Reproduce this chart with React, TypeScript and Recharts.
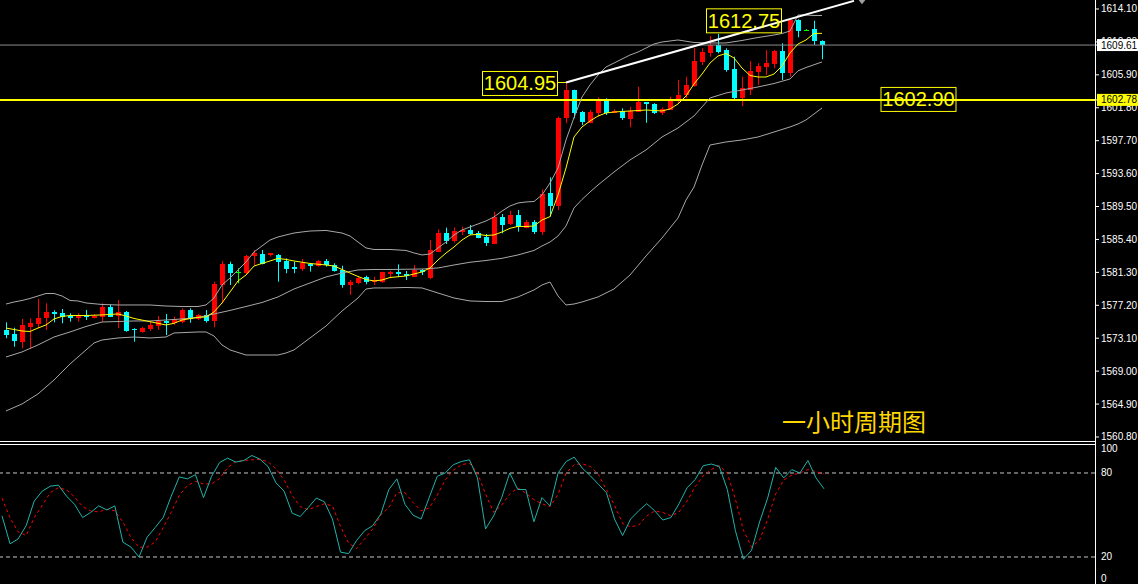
import React from "react";
import { ComposedChart, Bar, Line, XAxis, YAxis, ReferenceLine, ReferenceDot } from "recharts";

const opens = [1574.13,1573.59,1572.67,1574.54,1574.87,1575.58,1576.40,1576.24,1575.91,1575.66,1576.00,1575.71,1575.71,1577.03,1575.87,1576.40,1574.21,1573.91,1574.21,1574.62,1575.25,1574.96,1575.16,1576.62,1575.50,1576.00,1575.25,1579.73,1582.34,1581.31,1581.19,1583.34,1583.59,1583.38,1583.47,1582.76,1582.01,1581.72,1582.30,1582.13,1582.72,1582.22,1581.60,1579.82,1580.01,1580.68,1580.14,1580.06,1581.19,1581.31,1581.06,1580.76,1581.60,1580.56,1583.88,1586.24,1585.25,1586.33,1586.58,1586.24,1585.74,1584.92,1588.24,1587.33,1588.45,1586.91,1587.61,1586.37,1591.15,1589.48,1600.49,1604.01,1601.31,1599.99,1601.19,1602.68,1601.19,1601.44,1600.49,1601.31,1602.48,1602.27,1601.11,1601.61,1602.68,1603.39,1604.51,1607.54,1608.58,1609.62,1609.00,1606.63,1602.98,1604.01,1606.29,1606.91,1607.25,1608.87,1606.17,1612.73,1611.48,1611.57,1610.15];
const highs = [1575.08,1574.41,1575.50,1575.58,1577.99,1577.45,1576.58,1576.74,1576.20,1576.20,1576.62,1576.08,1577.45,1577.33,1577.86,1576.49,1574.34,1574.50,1575.25,1575.87,1576.12,1575.79,1576.83,1576.83,1576.12,1576.62,1580.14,1582.75,1582.63,1581.81,1583.47,1584.09,1584.09,1583.72,1583.59,1583.05,1582.63,1582.97,1582.35,1582.84,1582.97,1582.43,1582.13,1580.35,1580.76,1580.89,1580.76,1581.39,1581.47,1582.30,1581.47,1582.22,1581.72,1585.33,1586.66,1586.87,1586.91,1587.00,1587.20,1586.45,1586.08,1588.86,1588.57,1588.98,1589.07,1587.82,1587.82,1591.65,1593.14,1600.69,1604.95,1604.05,1601.40,1601.52,1603.10,1602.98,1601.61,1601.73,1601.93,1604.42,1602.48,1602.36,1601.85,1603.18,1605.26,1605.67,1609.21,1609.21,1610.74,1611.00,1609.21,1608.16,1605.67,1607.62,1607.34,1609.00,1609.00,1609.83,1612.75,1612.82,1611.60,1612.64,1610.20];
const lows = [1573.09,1572.05,1571.85,1571.76,1574.34,1574.13,1575.08,1574.96,1575.16,1575.16,1575.37,1575.58,1575.16,1575.75,1574.34,1573.91,1572.67,1573.80,1573.99,1574.13,1573.50,1574.75,1574.96,1575.04,1575.37,1575.04,1574.46,1577.45,1579.73,1579.94,1581.10,1582.22,1582.30,1583.30,1580.14,1581.19,1581.19,1581.47,1581.39,1582.01,1582.01,1581.39,1579.39,1578.49,1579.82,1579.82,1579.73,1580.01,1580.56,1580.76,1580.35,1580.72,1580.97,1580.45,1583.80,1584.84,1585.00,1585.95,1585.95,1585.55,1584.59,1584.85,1586.17,1587.20,1586.37,1586.79,1586.08,1585.96,1588.24,1589.07,1599.87,1600.49,1599.66,1599.87,1600.69,1600.90,1601.11,1600.28,1599.37,1601.31,1599.94,1601.03,1600.90,1601.52,1602.36,1602.98,1604.42,1607.13,1608.16,1608.58,1606.29,1602.77,1602.02,1603.39,1604.64,1605.88,1606.72,1605.26,1605.67,1610.57,1611.40,1609.62,1607.84];
const closes = [1573.50,1572.67,1574.75,1575.04,1575.66,1576.33,1576.16,1575.79,1575.66,1576.00,1575.71,1575.91,1576.95,1575.79,1576.40,1574.04,1574.04,1574.41,1574.75,1575.25,1574.96,1575.46,1576.62,1575.50,1576.00,1575.25,1579.85,1582.34,1581.19,1581.31,1583.34,1583.68,1582.34,1583.68,1582.63,1581.72,1581.72,1582.43,1582.09,1582.72,1582.22,1581.51,1579.73,1580.14,1580.64,1580.06,1580.35,1581.31,1581.39,1581.06,1580.85,1581.60,1581.31,1584.09,1586.24,1585.25,1586.45,1586.58,1586.08,1585.62,1585.00,1588.24,1587.20,1588.45,1586.91,1587.61,1586.37,1591.06,1589.48,1600.49,1604.01,1601.11,1600.07,1601.31,1602.68,1601.19,1601.40,1600.61,1601.44,1602.56,1602.23,1601.19,1601.61,1602.93,1603.39,1604.64,1607.62,1608.78,1609.62,1608.78,1606.50,1603.06,1604.22,1606.38,1607.00,1607.41,1608.91,1606.17,1612.73,1611.40,1611.48,1610.03,1609.61];

const maPoints: [number, number][] = [[0,1574.37],[2,1574.00],[3,1573.94],[4,1574.37],[5,1574.75],[6,1575.50],[7,1575.81],[8,1575.93],[10,1575.93],[12,1576.00],[14,1576.12],[15,1575.87],[16,1575.56],[18,1575.16],[20,1574.75],[21,1574.96],[22,1575.37],[24,1575.71],[25,1575.74],[26,1576.37],[27,1577.49],[28,1578.86],[29,1580.23],[30,1580.97],[31,1582.09],[32,1582.41],[33,1582.72],[34,1583.03],[35,1582.91],[36,1582.72],[38,1582.41],[40,1582.22],[41,1582.09],[42,1581.66],[43,1581.22],[44,1580.79],[45,1580.41],[46,1580.23],[47,1580.35],[48,1580.66],[50,1580.85],[51,1581.10],[52,1581.35],[53,1581.85],[54,1582.84],[55,1583.71],[56,1584.46],[57,1585.33],[58,1585.96],[59,1586.04],[60,1585.89],[61,1585.96],[62,1586.33],[63,1586.79],[64,1587.02],[65,1587.02],[66,1587.08],[67,1587.82],[68,1588.24],[69,1590.94],[70,1594.30],[71,1598.16],[72,1599.41],[73,1600.15],[74,1600.77],[75,1601.15],[76,1601.27],[78,1601.40],[80,1601.52],[82,1601.40],[83,1601.65],[84,1602.27],[85,1603.27],[86,1604.76],[87,1606.00],[88,1607.37],[89,1608.25],[90,1608.56],[91,1608.00],[92,1606.75],[93,1605.82],[94,1605.63],[95,1605.63],[96,1606.00],[97,1607.00],[98,1608.62],[99,1609.74],[100,1610.24],[101,1611.05],[102,1611.07]];
const upperBand: [number, number][] = [[0,1577.36],[1,1577.61],[2,1577.80],[3,1578.05],[4,1578.36],[5,1578.67],[6,1578.67],[7,1578.36],[8,1577.80],[9,1577.74],[10,1577.49],[12,1577.30],[14,1577.24],[16,1577.24],[18,1577.24],[20,1577.11],[22,1577.05],[24,1577.05],[25,1577.24],[26,1578.11],[27,1579.73],[28,1580.60],[29,1581.60],[30,1582.59],[31,1583.84],[32,1584.59],[33,1585.33],[34,1585.71],[35,1585.96],[36,1586.20],[37,1586.33],[38,1586.45],[40,1586.52],[42,1586.20],[43,1585.83],[44,1585.08],[45,1584.34],[46,1584.15],[48,1584.15],[50,1584.03],[51,1583.72],[52,1583.47],[53,1583.59],[54,1584.34],[55,1585.08],[56,1585.96],[57,1586.58],[58,1586.95],[59,1587.33],[60,1587.70],[61,1588.20],[62,1588.94],[63,1589.57],[64,1589.94],[65,1590.07],[66,1590.13],[67,1590.94],[68,1592.43],[69,1594.30],[70,1597.79],[71,1600.58],[72,1603.14],[73,1604.64],[74,1605.88],[75,1606.88],[76,1607.37],[77,1607.87],[78,1608.37],[79,1608.74],[80,1609.24],[81,1609.74],[82,1609.99],[84,1610.24],[86,1609.93],[88,1609.87],[90,1609.87],[92,1610.18],[94,1610.55],[96,1610.86],[97,1611.05],[98,1611.36],[99,1613.35],[100,1613.35],[101,1613.29],[102,1613.29]];
const middleBand: [number, number][] = [[0,1570.76],[2,1571.39],[4,1572.26],[6,1573.25],[8,1573.88],[10,1574.56],[12,1575.12],[14,1575.18],[16,1575.25],[18,1575.25],[20,1575.37],[22,1575.50],[24,1575.68],[26,1576.12],[28,1576.56],[30,1577.05],[32,1577.55],[34,1578.24],[36,1579.23],[38,1579.98],[40,1580.73],[42,1581.22],[44,1581.60],[46,1581.66],[48,1581.66],[50,1581.69],[52,1581.72],[54,1581.85],[56,1582.22],[58,1582.56],[60,1582.78],[62,1583.05],[64,1583.47],[66,1584.03],[67,1584.59],[68,1585.08],[69,1585.83],[70,1587.08],[71,1589.32],[72,1590.38],[73,1591.31],[74,1592.18],[76,1593.80],[78,1595.30],[80,1596.54],[82,1598.16],[84,1599.28],[86,1600.78],[88,1603.02],[90,1603.64],[92,1604.01],[94,1604.39],[96,1604.82],[98,1605.38],[99,1606.40],[100,1606.81],[102,1607.50]];
const lowerBand: [number, number][] = [[0,1564.04],[2,1564.91],[4,1566.16],[6,1567.90],[8,1569.89],[10,1571.64],[11,1572.51],[12,1572.88],[14,1573.13],[16,1573.25],[18,1573.13],[20,1573.25],[21,1573.75],[24,1573.88],[25,1573.88],[26,1573.38],[27,1572.26],[28,1571.64],[30,1571.01],[32,1571.01],[34,1571.01],[35,1571.26],[36,1571.64],[38,1573.13],[40,1574.62],[42,1576.49],[44,1578.11],[45,1579.23],[46,1579.36],[48,1579.36],[50,1579.42],[52,1579.36],[54,1578.73],[56,1578.11],[58,1577.74],[60,1577.67],[62,1577.67],[64,1578.24],[66,1579.11],[67,1579.73],[68,1580.10],[69,1578.36],[70,1577.24],[71,1577.36],[72,1577.61],[74,1578.24],[76,1579.23],[78,1580.97],[80,1583.34],[82,1585.58],[84,1588.07],[85,1590.31],[86,1591.93],[87,1594.67],[88,1597.16],[90,1597.54],[92,1597.79],[94,1598.16],[96,1598.78],[98,1599.41],[99,1599.78],[100,1600.28],[102,1601.77]];

const stochK = [49.4,29.4,32.9,42.4,60.0,67.1,70.6,71.3,63.5,57.6,48.2,51.8,56.5,53.6,56.5,30.6,27.1,20.0,34.1,41,48.2,63.5,77.2,75.8,78.8,62.4,77.6,87.5,90.6,87.8,88.9,92.5,89.9,84.7,72.9,67.1,51.3,48.9,55.3,62.1,59.5,47.1,23.5,22.4,31.8,38.8,42.4,50.6,68.2,75.8,57.6,49.9,47.1,62.4,77.6,80,85.9,88.2,89.4,76.5,40,49.4,62.4,80,68.2,68.2,45.2,62.4,56.5,80,88.2,91.3,83.5,78,72,65.9,47.1,35.3,47.1,53,58.1,52.9,46.4,48.2,58,69.4,75.3,85.2,86.4,84.7,68.2,38.8,18.4,24.7,45,62,84,76.5,82.4,80,88.9,76.5,68.7];
const stochD = [62,48,38,35.3,48.2,57,66,69.5,68,63,56,52.9,52.2,54.1,53,45,34,27,27,30.6,41,52,64,71,74,72.2,72.2,76,84,88,89,89.4,89.7,88,83,75,64,56,53.8,56,58,56.5,42,30,26,33,40,50,55.3,65.9,65.9,59,53,55,64,75,82,85.9,87,80,65,52,57,65,69.4,65.5,61,58,56,64.7,80,86,86.5,84.7,79,68,57,44,41.5,42.8,49.4,52.9,51.8,49.4,52,60,70,78,82.5,85.2,80,61.2,39,27.1,32,47,65,75,78.5,80,82.5,81,79.3];

const priceTicks = [1614.10, 1610.00, 1605.90, 1601.80, 1597.70, 1593.60, 1589.50, 1585.40, 1581.30, 1577.20, 1573.10, 1569.00, 1564.90, 1560.80];
const bidPrice = 1609.61;
const levelPrice = 1602.78;
const stochTicks = [100, 80, 20, 0];
const stochLevels = [80, 20];
const trendStart = { k: 70, price: 1604.95 };
const trendEnd = { k: 106, price: 1615.11 };
const trendMarker = { k: 107, price: 1614.95 };
const boxLabels = [
  { k: 70, price: 1604.95, text: "1604.95", side: "left", connector: true },
  { k: 98, price: 1612.75, text: "1612.75", side: "left", connector: false },
  { k: 114, price: 1602.90, text: "1602.90", side: "center", connector: false },
];
const titleText = { k: 106, price: 1562.9, text: "一小时周期图" };

const SLOTS = 136;
const toMap = (pts: [number, number][]) => new Map(pts);
const maMap = toMap(maPoints), upMap = toMap(upperBand), midMap = toMap(middleBand), loMap = toMap(lowerBand);

const mainData = Array.from({ length: SLOTS }, (_, k) => {
  const row: any = { k };
  if (k < opens.length) {
    row.open = opens[k]; row.high = highs[k]; row.low = lows[k]; row.close = closes[k];
    row.range = [lows[k], highs[k]];
  }
  row.ma = maMap.has(k) ? maMap.get(k) : null;
  row.up = upMap.has(k) ? upMap.get(k) : null;
  row.mid = midMap.has(k) ? midMap.get(k) : null;
  row.lo = loMap.has(k) ? loMap.get(k) : null;
  return row;
});

const stochData = Array.from({ length: SLOTS }, (_, k) => ({
  k,
  kv: k < stochK.length ? stochK[k] : null,
  d: k < stochD.length ? stochD[k] : null,
}));

const FONT = "'Liberation Sans', Arial, sans-serif";

const Candle = (props: any) => {
  const { x, y, width, height, payload } = props;
  if (!payload || payload.open == null) return null;
  const { open, close, high, low } = payload;
  const top = Math.min(y, y + height);
  const h = Math.abs(height);
  const span = high - low;
  const py = (v: number) => (span > 0 ? top + ((high - v) / span) * h : top);
  const cx = Math.floor(x + width / 2);
  const doji = Math.abs(close - open) < 0.005;
  const color = doji ? "#00ff00" : close > open ? "#ff0000" : "#00ffff";
  const yO = py(open), yC = py(close);
  const bTop = Math.round(Math.min(yO, yC));
  const bH = Math.max(1, Math.round(Math.abs(yO - yC)));
  return (
    <g>
      <line x1={cx + 0.5} x2={cx + 0.5} y1={top} y2={top + h} stroke={color} strokeWidth={1} />
      {doji ? (
        <line x1={cx - 2} x2={cx + 3} y1={Math.round(yO) + 0.5} y2={Math.round(yO) + 0.5} stroke={color} strokeWidth={1} />
      ) : (
        <rect x={cx - 2} y={bTop} width={5} height={bH} fill={color} shapeRendering="crispEdges" />
      )}
    </g>
  );
};

const PriceTick = (props: any) => {
  const { x, y, payload } = props;
  const v = payload.value;
  const label = Number(v).toFixed(2);
  if (v === bidPrice || v === levelPrice) {
    return (
      <g>
        <rect x={x - 4} y={y - 6} width={46} height={12} fill={v === bidPrice ? "#ffffff" : "#ffff00"} />
        <text x={x} y={y} dy={3.5} fill="#000" fontSize={10} fontFamily={FONT}>{label}</text>
      </g>
    );
  }
  return <text x={x} y={y} dy={3.5} fill="#ffffff" fontSize={10} fontFamily={FONT}>{label}</text>;
};

const StochTick = (props: any) => {
  const { x, y, payload } = props;
  const v = payload.value;
  const shift = v === 100 ? 4 : v === 0 ? -7 : 0;
  return <text x={x} y={y + shift} dy={3.5} fill="#ffffff" fontSize={10} fontFamily={FONT}>{String(v)}</text>;
};

const makeBox = (lbl: any) => (p: any) => {
  const { cx, cy } = p;
  if (cx == null || cy == null) return <g />;
  const w = 75, h = 24;
  const left = lbl.side === "left" ? cx - 84 : cx - w / 2;
  const top = lbl.side === "center" ? cy - h / 2 : cy - 11.5;
  return (
    <g>
      {lbl.connector && <line x1={left + w} x2={cx} y1={cy} y2={cy} stroke="#ffff00" strokeWidth={1} />}
      <rect x={left + 0.5} y={top + 0.5} width={w} height={h} fill="none" stroke="#ffff00" strokeWidth={1} />
      <text x={left + w / 2 + 0.5} y={top + h / 2 + 0.5} textAnchor="middle" dominantBaseline="central" fill="#ffff00" fontSize={20} fontFamily={FONT}>{lbl.text}</text>
    </g>
  );
};

const MarkerShape = (p: any) => {
  const { cx, cy } = p;
  if (cx == null) return <g />;
  return <path d={`M${cx - 4},${cy - 3} L${cx + 4},${cy - 3} L${cx},${cy + 2} Z`} fill="#a0a0a0" />;
};

const TitleShape = (p: any) => {
  const { cx, cy } = p;
  if (cx == null) return <g />;
  return (
    <text x={cx} y={cy} textAnchor="middle" dominantBaseline="central" fill="#ffd700" fontSize={24} fontFamily="'Noto Sans CJK SC', sans-serif">{titleText.text}</text>
  );
};

const lineProps = { dot: false, activeDot: false, connectNulls: true, isAnimationActive: false } as any;

export default function App() {
  return (
    <div style={{ position: "fixed", left: 0, top: 0, width: 1138, height: 584, background: "#000", overflow: "hidden" }}>
      <div style={{ position: "absolute", left: 0, top: 0 }}>
        <ComposedChart width={1138} height={443} data={mainData} margin={{ top: 0, right: 0, bottom: 2, left: 0 }}>
          <XAxis dataKey="k" type="category" height={0} tick={false} tickLine={false} axisLine={false} padding={{ left: 2, right: 5 }} interval={0} />
          <YAxis orientation="right" type="number" width={43} domain={[1560.30, 1615.22]} allowDataOverflow ticks={[...priceTicks, bidPrice, levelPrice]} interval={0} tickSize={4} tickMargin={2} tickLine={{ stroke: "#ffffff" }} axisLine={false} tick={<PriceTick />} />
          <ReferenceLine y={bidPrice} stroke="#8c8c8c" strokeWidth={1} />
          <ReferenceLine y={levelPrice} stroke="#ffff00" strokeWidth={2} />
          <Bar dataKey="range" barSize={5} shape={<Candle />} activeBar={false} isAnimationActive={false} />
          <Line dataKey="up" stroke="#a8a8a8" strokeWidth={1} {...lineProps} />
          <Line dataKey="mid" stroke="#a8a8a8" strokeWidth={1} {...lineProps} />
          <Line dataKey="lo" stroke="#a8a8a8" strokeWidth={1} {...lineProps} />
          <Line dataKey="ma" stroke="#ffff00" strokeWidth={1} {...lineProps} />
          <ReferenceLine segment={[{ x: trendStart.k, y: trendStart.price }, { x: trendEnd.k, y: trendEnd.price }]} stroke="#ffffff" strokeWidth={2} ifOverflow="visible" />
          <ReferenceDot x={trendMarker.k} y={trendMarker.price} r={0} ifOverflow="visible" shape={MarkerShape} />
          {boxLabels.map((lbl) => (
            <ReferenceDot key={lbl.text} x={lbl.k} y={lbl.price} r={0} ifOverflow="visible" shape={makeBox(lbl)} />
          ))}
          <ReferenceDot x={titleText.k} y={titleText.price} r={0} ifOverflow="visible" shape={TitleShape} />
        </ComposedChart>
      </div>
      <div style={{ position: "absolute", left: 0, top: 443 }}>
        <ComposedChart width={1138} height={142} data={stochData} margin={{ top: 1, right: 0, bottom: 0, left: 0 }}>
          <XAxis dataKey="k" type="category" orientation="top" height={0} tick={false} tickLine={false} axisLine={false} padding={{ left: 2, right: 5 }} interval={0} />
          <YAxis orientation="right" type="number" width={43} domain={[0, 100.71]} allowDataOverflow ticks={stochTicks} interval={0} tickSize={4} tickMargin={2} tickLine={false} axisLine={false} tick={<StochTick />} />
          {stochLevels.map((lv) => (
            <ReferenceLine key={lv} y={lv} stroke="#c8c8c8" strokeDasharray="4 3" />
          ))}
          <Line dataKey="d" stroke="#ff0000" strokeWidth={1} strokeDasharray="3 3" dot={false} activeDot={false} isAnimationActive={false} />
          <Line dataKey="kv" stroke="#20b2aa" strokeWidth={1} dot={false} activeDot={false} isAnimationActive={false} />
        </ComposedChart>
      </div>
      <div style={{ position: "absolute", left: 0, top: 441, width: 1096, height: 1, background: "#ffffff" }} />
      <div style={{ position: "absolute", left: 0, top: 444, width: 1096, height: 1, background: "#ffffff" }} />
      <div style={{ position: "absolute", left: 1095, top: 0, width: 1, height: 584, background: "#ffffff" }} />
    </div>
  );
}
